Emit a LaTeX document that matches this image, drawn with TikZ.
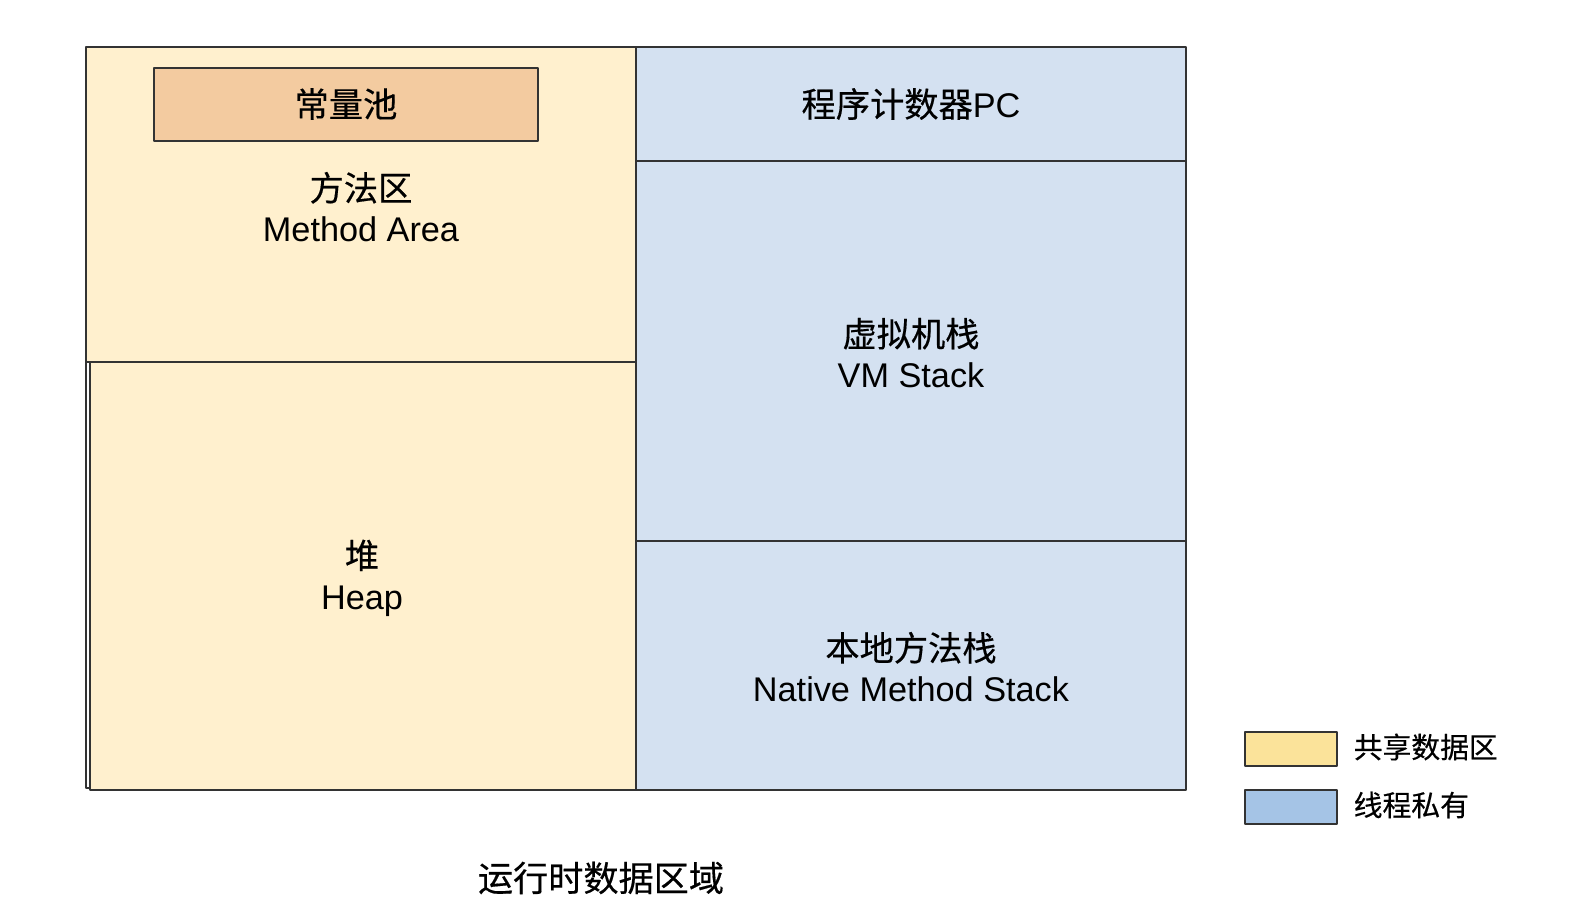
\documentclass[tikz,border=0pt]{standalone}
\usepackage{fontspec}
\setmainfont{Liberation Sans}
\newfontfamily\cjk[FakeBold=0.4]{Noto Sans CJK SC}
\definecolor{shareFill}{HTML}{FFF0CE}
\definecolor{privFill}{HTML}{D4E1F1}
\definecolor{poolFill}{HTML}{F3CBA0}
\definecolor{shareKey}{HTML}{FBE39A}
\definecolor{privKey}{HTML}{A5C4E6}
\definecolor{edge}{HTML}{333333}
\usetikzlibrary{calc,positioning}

\begin{document}
\begin{tikzpicture}[x=0.02cm,y=-0.02cm,line join=round,line width=0.8pt,
  area/.style={draw=edge},
  lbl/.style={align=center,inner sep=0pt,font=\fontsize{19.5}{23.3}\selectfont},
  key/.style={anchor=west,inner sep=0pt,font=\cjk\fontsize{16.4}{18}\selectfont}]
\useasboundingbox (0,0) rectangle (1580,922);
% shared areas
\draw[area,fill=shareFill] (86,47) rectangle (636,362);
\draw[area] (86,362)--(86,788)--(90,788);
\draw[area,fill=shareFill] (90,362) rectangle (636,790);
\draw[area,fill=poolFill] (154,68) rectangle (538,141);
% thread private areas
\draw[area,fill=privFill] (636,47) rectangle (1186,161);
\draw[area,fill=privFill] (636,161) rectangle (1186,541);
\draw[area,fill=privFill] (636,541) rectangle (1186,790);
% labels
\node[lbl] (pool) at (346,104) {\cjk 常量池};
\node[lbl] (method) at (361,207) {{\cjk 方法区}\\Method Area};
\node[lbl] (heap) at (362,578) {{\cjk 堆}\\Heap};
\node[lbl] (pc) at (911,104) {{\cjk 程序计数器}PC};
\node[lbl] (vm) at (911,353) {{\cjk 虚拟机栈}\\VM Stack};
\node[lbl] (native) at (911,667) {{\cjk 本地方法栈}\\Native Method Stack};
\node[lbl,font=\cjk\fontsize{20}{24}\selectfont] (title) at (601,878) {运行时数据区域};
% legend
\foreach \y/\c/\t/\n in {732/shareKey/共享数据区/kshare,790/privKey/线程私有/kpriv}{
  \draw[area,fill=\c] (1245,\y) rectangle (1337,\y+34);
  \node[key] (\n) at (1353,\y+15) {\t};}
\end{tikzpicture}
\end{document}
